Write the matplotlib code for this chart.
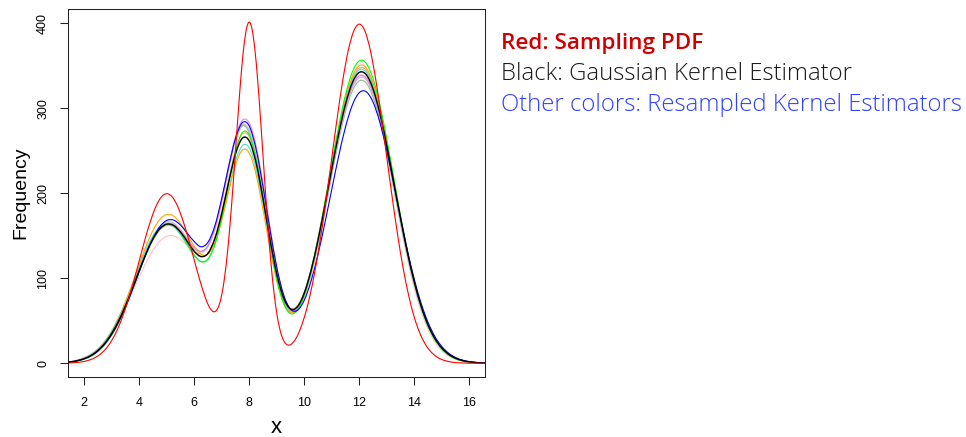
"""Sampling PDF versus Gaussian and resampled kernel density estimates."""

import matplotlib

matplotlib.use("Agg")
import matplotlib.pyplot as plt  # noqa: E402
import numpy as np  # noqa: E402
from matplotlib.patches import PathPatch  # noqa: E402
from matplotlib.path import Path  # noqa: E402

plt.rcParams["font.family"] = ["Liberation Sans", "DejaVu Sans"]

# sample positions (x) of the tabulated curves
red_x = np.concatenate([
    np.linspace(1.4, 6.2, 25),
    np.linspace(6.4, 9.8, 35),
    np.linspace(10.0, 16.6, 34),
])
kde_x = np.linspace(1.25, 16.75, 63)

# red: sampling pdf (frequency scale)
red_pdf = [
    0.3, 0.6, 1.2, 2.2, 4.0, 6.8, 11.2, 17.7, 27.0, 39.5, 55.5, 74.9, 97.1,
    121.0, 144.9, 166.6, 184.2, 195.6, 199.5, 195.6, 184.2, 166.6, 144.9, 121.1, 97.7,
    77.3, 69.2, 63.4, 60.6, 61.9, 68.3, 81.0, 101.0, 128.6, 163.9, 205.4, 250.8,
    296.5, 338.5, 372.3, 394.1, 401.4, 392.9, 369.8, 334.6, 290.9, 243.3, 195.7,
    151.6, 113.4, 82.4, 58.5, 41.5, 30.3, 24.0, 21.5, 21.9, 24.8, 29.5, 36.1,
    54.1, 79.0, 110.9, 149.7, 194.2, 242.0, 289.7, 333.3, 368.3, 391.1, 399.0,
    391.1, 368.3, 333.3, 289.7, 242.0, 194.2, 149.7, 110.9, 79.0, 54.0,
    35.5, 22.4, 13.6, 7.9, 4.4, 2.4, 1.2, 0.6, 0.3, 0.1, 0.1, 0.0, 0.0,
]

# black: gaussian kernel estimator
black_kde = [
    0.8, 1.6, 3.1, 5.5, 9.3, 15.2, 23.7, 35.3, 50.1, 68.0, 88.3, 109.4,
    129.5, 146.5, 158.4, 163.7, 162.1, 154.4, 143.0, 131.7, 125.6, 129.5, 146.8, 176.5,
    213.2, 246.3, 264.9, 261.4, 235.2, 193.1, 146.1, 104.8, 76.4, 63.8, 66.6, 82.7,
    109.8, 145.1, 185.9, 228.8, 270.0, 305.2, 330.3, 342.2, 339.6, 322.6, 293.5, 255.7,
    213.2, 170.3, 130.2, 95.4, 66.9, 44.9, 28.9, 17.8, 10.5, 5.9, 3.2, 1.7,
    0.8, 0.4, 0.2,
]

# resampled kernel estimators
green_kde = [
    0.6, 1.3, 2.7, 4.8, 8.3, 13.9, 22.0, 33.3, 47.9, 65.7, 86.2, 107.6,
    128.1, 145.6, 157.8, 163.2, 161.3, 152.8, 140.2, 127.3, 119.5, 122.4, 140.0, 172.0,
    212.6, 250.1, 271.6, 268.4, 239.8, 193.7, 143.0, 99.3, 70.3, 58.4, 62.6, 80.3,
    109.1, 146.3, 189.3, 234.8, 278.6, 316.1, 343.0, 355.8, 353.0, 334.7, 303.6, 263.3,
    218.3, 173.1, 131.2, 95.1, 65.9, 43.6, 27.7, 16.8, 9.7, 5.3, 2.8, 1.5,
    0.7, 0.3, 0.2,
]
orange_kde = [
    0.8, 1.6, 3.2, 5.6, 9.6, 15.8, 24.7, 37.0, 52.8, 72.0, 93.7, 116.4,
    138.1, 156.5, 169.3, 175.0, 173.1, 164.4, 151.2, 137.4, 128.2, 128.5, 142.1, 168.4,
    202.3, 233.4, 250.9, 247.2, 221.6, 180.7, 135.6, 96.6, 70.6, 60.0, 64.5, 82.0,
    110.2, 146.7, 188.7, 233.0, 275.5, 311.9, 337.8, 350.2, 347.5, 329.9, 299.8, 260.7,
    216.9, 172.8, 131.7, 96.1, 67.1, 44.8, 28.7, 17.6, 10.3, 5.7, 3.1, 1.6,
    0.8, 0.4, 0.2,
]
blue_kde = [
    0.8, 1.5, 3.0, 5.3, 8.9, 14.6, 22.8, 34.1, 48.6, 66.4, 86.7, 108.2,
    129.2, 147.4, 160.9, 168.1, 168.4, 162.5, 152.8, 143.1, 137.0, 142.6, 162.0, 194.1,
    231.6, 264.9, 283.2, 278.9, 251.3, 207.2, 157.5, 112.7, 80.4, 63.6, 62.3, 74.3,
    97.2, 128.4, 165.3, 204.9, 243.8, 278.2, 304.1, 318.4, 319.5, 307.2, 283.0, 249.8,
    211.1, 171.1, 132.7, 98.7, 70.3, 48.0, 31.4, 19.7, 11.8, 6.8, 3.7, 2.0,
    1.0, 0.5, 0.3,
]
turquoise_kde = [
    0.9, 1.9, 3.5, 6.2, 10.5, 16.9, 26.1, 38.5, 54.1, 72.6, 93.3, 114.4,
    134.0, 150.0, 160.5, 164.1, 160.7, 151.3, 138.6, 126.4, 119.7, 123.1, 140.0, 169.1,
    205.1, 237.7, 256.2, 253.2, 228.0, 187.4, 142.0, 102.2, 75.0, 63.2, 66.7, 83.2,
    110.7, 146.4, 187.6, 230.9, 272.4, 308.0, 333.3, 345.3, 342.7, 325.5, 296.1, 258.0,
    215.1, 171.8, 131.4, 96.3, 67.5, 45.3, 29.2, 18.0, 10.6, 6.0, 3.2, 1.7,
    0.8, 0.4, 0.2,
]
violet_kde = [
    0.9, 1.7, 3.3, 5.9, 9.8, 15.9, 24.6, 36.4, 51.4, 69.3, 89.6, 110.6,
    130.6, 147.4, 159.2, 164.5, 163.1, 155.9, 145.4, 135.6, 131.7, 138.5, 159.0, 192.0,
    231.4, 266.4, 286.0, 282.4, 255.0, 210.9, 161.0, 112.0, 79.0, 62.5, 65.0, 82.5,
    110.0, 145.7, 185.6, 227.5, 267.8, 302.0, 326.4, 338.0, 335.5, 319.0, 290.7, 253.8,
    212.3, 170.2, 130.7, 96.3, 67.9, 45.9, 29.7, 18.5, 11.0, 6.3, 3.4, 1.8,
    0.9, 0.4, 0.2,
]
pink_kde = [
    1.2, 2.2, 4.1, 6.9, 11.1, 17.2, 25.7, 36.8, 50.3, 66.2, 83.7, 101.6,
    118.6, 133.1, 143.8, 149.4, 149.8, 145.5, 138.2, 131.4, 129.4, 136.8, 157.0, 188.8,
    226.9, 260.7, 279.0, 274.2, 245.8, 201.0, 150.9, 106.7, 75.7, 60.9, 61.8, 76.5,
    102.6, 137.4, 178.4, 221.9, 264.1, 300.4, 326.4, 338.8, 336.0, 318.4, 288.3, 249.4,
    206.0, 162.6, 122.6, 88.3, 60.8, 39.9, 25.0, 15.0, 8.6, 4.6, 2.4, 1.2,
    0.5, 0.3, 0.1,
]
gray_kde = [
    0.8, 1.6, 3.2, 5.6, 9.5, 15.4, 24.1, 35.9, 50.9, 69.1, 89.7, 111.2,
    131.6, 148.8, 161.0, 166.4, 164.9, 157.3, 146.4, 136.1, 131.8, 138.5, 159.3, 192.5,
    231.5, 264.8, 281.1, 273.4, 242.3, 195.7, 145.7, 102.9, 74.1, 61.7, 64.7, 80.8,
    107.6, 142.4, 182.5, 224.7, 265.1, 299.7, 324.4, 336.0, 333.5, 316.8, 288.2, 251.1,
    209.4, 167.2, 127.9, 93.7, 65.7, 44.1, 28.4, 17.5, 10.3, 5.8, 3.1, 1.7,
    0.8, 0.4, 0.2,
]
seagreen_kde = [
    0.8, 1.6, 3.1, 5.5, 9.3, 15.3, 23.8, 35.4, 50.3, 68.3, 88.6, 109.8,
    130.0, 147.1, 159.1, 164.4, 163.0, 155.6, 144.9, 135.0, 131.2, 138.4, 159.6, 192.9,
    231.6, 264.2, 279.5, 270.8, 239.0, 192.3, 142.5, 100.3, 72.2, 60.3, 63.5, 79.7,
    106.3, 140.8, 180.5, 222.2, 262.2, 296.4, 320.7, 332.3, 329.8, 313.2, 285.0, 248.3,
    207.0, 165.4, 126.4, 92.6, 65.0, 43.6, 28.1, 17.3, 10.2, 5.7, 3.1, 1.7,
    0.8, 0.4, 0.2,
]
salmon_kde = [
    0.8, 1.6, 3.1, 5.4, 9.2, 15.0, 23.5, 34.9, 49.6, 67.3, 87.4, 108.3,
    128.2, 145.0, 156.8, 162.1, 160.5, 152.9, 141.8, 130.8, 125.2, 129.8, 148.0, 178.8,
    216.6, 250.7, 269.9, 266.4, 239.8, 196.9, 149.0, 106.8, 77.8, 64.9, 67.7, 84.0,
    111.5, 147.3, 188.7, 232.2, 274.1, 309.8, 335.3, 347.3, 344.7, 327.4, 297.9, 259.5,
    216.4, 172.9, 132.2, 96.8, 67.9, 45.6, 29.3, 18.1, 10.7, 6.0, 3.2, 1.7,
    0.8, 0.4, 0.2,
]

resampled = [
    (pink_kde, "#FFC0CB"),
    (seagreen_kde, "#8FBC8F"),
    (gray_kde, "#BEBEBE"),
    (salmon_kde, "#FFA07A"),
    (violet_kde, "#EE82EE"),
    (turquoise_kde, "#40E0D0"),
    (orange_kde, "#FFA500"),
    (green_kde, "#00FF00"),
    (blue_kde, "#0000FF"),
]

x_ticks = [2, 4, 6, 8, 10, 12, 14, 16]
y_ticks = [0, 100, 200, 300, 400]


def smooth_line(ax, x, y, color, lw):
    """Draw a curve through the tabulated points as a smooth Bezier path."""
    pts = np.column_stack([x, y]).astype(float)
    ext = np.vstack([pts[0], pts, pts[-1]])
    verts = [pts[0]]
    for i in range(len(pts) - 1):
        p0, p1, p2, p3 = ext[i], ext[i + 1], ext[i + 2], ext[i + 3]
        verts += [p1 + (p2 - p0) / 6, p2 - (p3 - p1) / 6, p2]
    codes = [Path.MOVETO] + [Path.CURVE4] * (3 * (len(pts) - 1))
    ax.add_patch(PathPatch(Path(verts, codes), fill=False, edgecolor=color,
                           lw=lw, capstyle="round", joinstyle="round"))


W, H = 966, 437
fig = plt.figure(figsize=(W / 100, H / 100), dpi=100)
ax = fig.add_axes([68.3 / W, (H - 376.7) / H, (485 - 68.3) / W, (376.7 - 9) / H])

for values, color in resampled:
    smooth_line(ax, kde_x, values, color, 0.8)
smooth_line(ax, kde_x, black_kde, "black", 1.0)
smooth_line(ax, red_x, red_pdf, "#FF0000", 0.8)

ax.set_xlim(1.418, 16.57)
ax.set_ylim(-15.8, 416.8)
ax.set_xticks(x_ticks)
ax.set_yticks(y_ticks)
ax.tick_params(length=5.8, width=0.75, labelsize=9, color="#222222")
ax.tick_params(axis="x", pad=8.5)
ax.tick_params(axis="y", pad=8, labelrotation=90)
for lab in ax.get_yticklabels():
    lab.set_va("center")
for spine in ax.spines.values():
    spine.set_linewidth(0.75)
    spine.set_color("#222222")

fig.text(276.6 / W, 1 - 433 / H, "x", fontsize=16, ha="center", va="baseline")
fig.text(21 / W, 1 - 193 / H, "Frequency", fontsize=14, rotation=90,
         ha="center", va="center")

note_font = ["Open Sans", "DejaVu Sans"]
fig.text(501 / W, 1 - 49 / H, "Red: Sampling PDF", color="#D00000",
         fontsize=16.2, fontweight="semibold", family=note_font)
fig.text(501 / W, 1 - 80 / H, "Black: Gaussian Kernel Estimator", color="#1A1A1A",
         fontsize=17.2, fontweight="light", family=note_font)
fig.text(501 / W, 1 - 111 / H, "Other colors: Resampled Kernel Estimators",
         color="#3040FF", fontsize=17.2, fontweight="light", family=note_font)

fig.savefig("out.png", dpi=100)
